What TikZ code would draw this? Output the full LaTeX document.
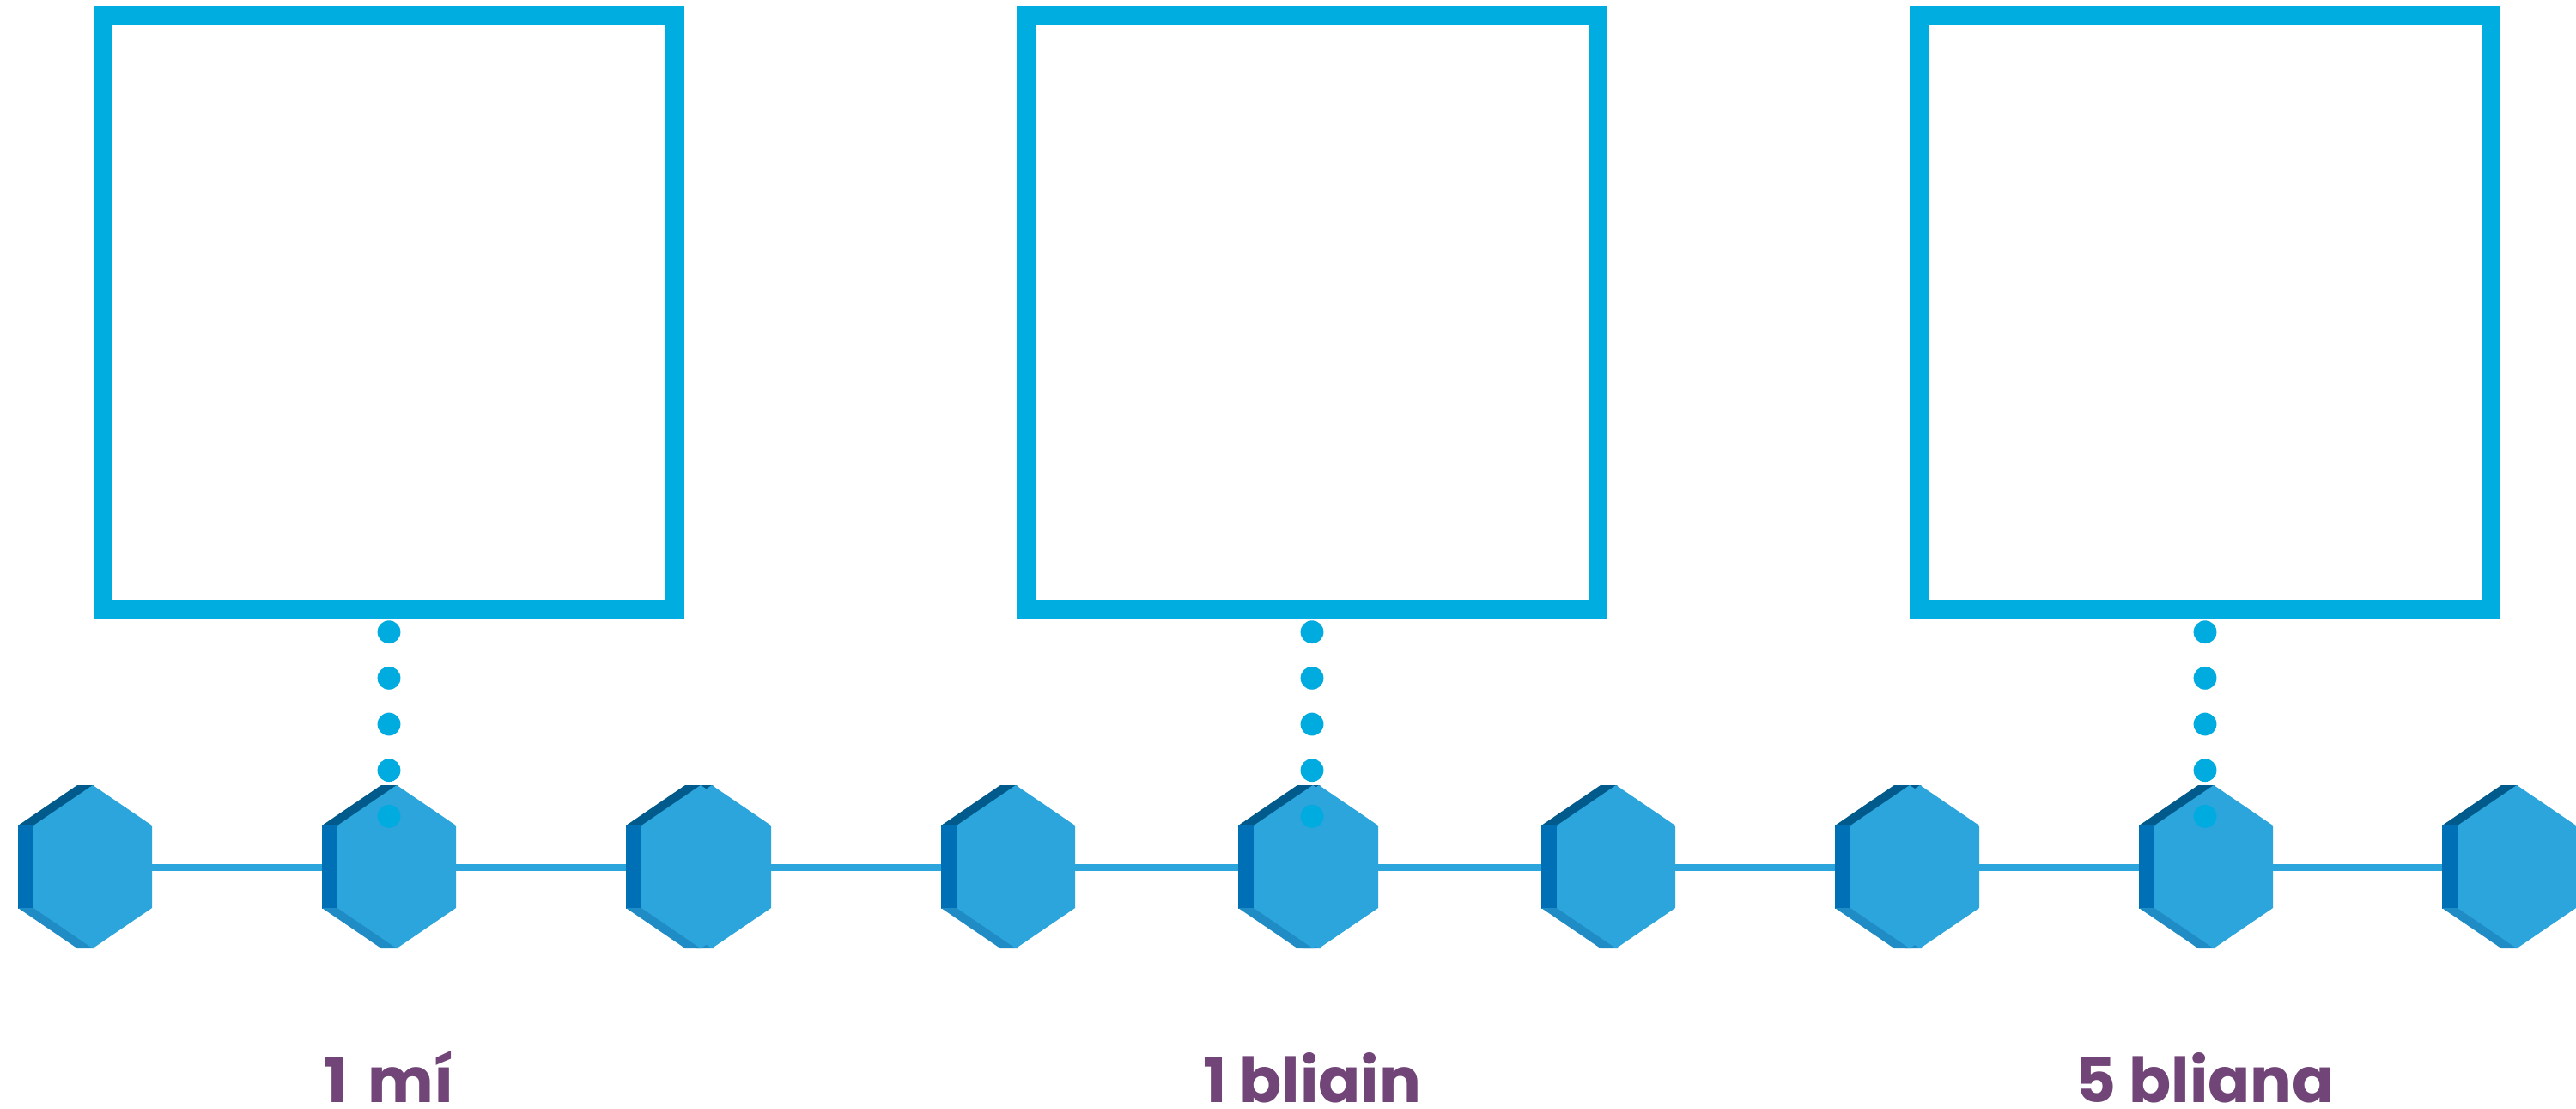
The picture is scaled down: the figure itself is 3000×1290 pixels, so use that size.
\documentclass[tikz,border=0pt]{standalone}
\usepackage{fontspec}
\setmainfont{Poppins}
\definecolor{boxblue}{HTML}{00ADE0}
\definecolor{dotblue}{HTML}{00ABE0}
\definecolor{faceblue}{HTML}{2BA5DB}
\definecolor{stripL}{HTML}{0070B6}
\definecolor{stripT}{HTML}{005B8C}
\definecolor{stripB}{HTML}{1F8CC6}
\definecolor{lblpurple}{HTML}{714577}
\newcommand\hexunit[1]{%
  \fill[stripT] (#1-18,961) -- (#1+51,914) -- (#1+71,914) -- (#1+2,962) -- (#1-18,962) -- cycle;
  \fill[stripL] (#1-18,960) rectangle (#1+2,1058);
  \fill[stripB] (#1-18,1057) -- (#1+2,1057) -- (#1+71,1104) -- (#1+51,1104) -- cycle;
  \fill[faceblue] (#1,961) -- (#1+69,914) -- (#1+138,961) -- (#1+138,1057) -- (#1+69,1104) -- (#1,1057) -- cycle;
}
\tikzset{
  framebox/.style={draw=boxblue, line width=0.22cm, minimum width=6.66cm, minimum height=6.92cm, inner sep=0pt, outer sep=0pt},
  chainline/.style={draw=faceblue, line width=0.08cm},
  lbltext/.style={text=lblpurple, font=\fontsize{20.6pt}{25pt}\selectfont\bfseries, anchor=base, inner sep=0pt},
  dotfill/.style={fill=dotblue}
}
\begin{document}
\begin{tikzpicture}[x=0.01cm, y=-0.01cm]
  \useasboundingbox (0,0) rectangle (3000,1290);
  \fill[white] (0,0) rectangle (3000,1290);
  % hexagon centre coordinates
  \foreach \xl [count=\i] in {39,393,747,1114,1460,1813,2155,2509,2862}
    \coordinate (h\i) at (\xl+69,1009.6);
  % chain line behind hexagons
  \draw[chainline] (h1) -- (h9);
  % hexagons
  \foreach \xl/\d in {39/0,393/0,747/13,1114/0,1460/7,1813/0,2155/12,2509/0,2862/0} {
    \ifnum\d>0 \hexunit{\xl+\d}\fi
    \hexunit{\xl}
  }
  % boxes
  \node[framebox] (b1) at (453,364) {};
  \node[framebox] (b2) at (1528,364) {};
  \node[framebox] (b3) at (2568,364) {};
  % dotted connectors
  \foreach \xx in {453,1528,2568}
    \foreach \k in {0,...,4}
      \fill[dotfill] (\xx,735.7+53.65*\k) circle (0.134cm);
  % labels
  \node[lbltext] (l1) at (453,1283) {1\hspace{0.12em} mí};
  \node[lbltext] (l2) at (1528,1283) {1 bliain};
  \node[lbltext] (l3) at (2568,1283) {5 bliana};
\end{tikzpicture}
\end{document}
